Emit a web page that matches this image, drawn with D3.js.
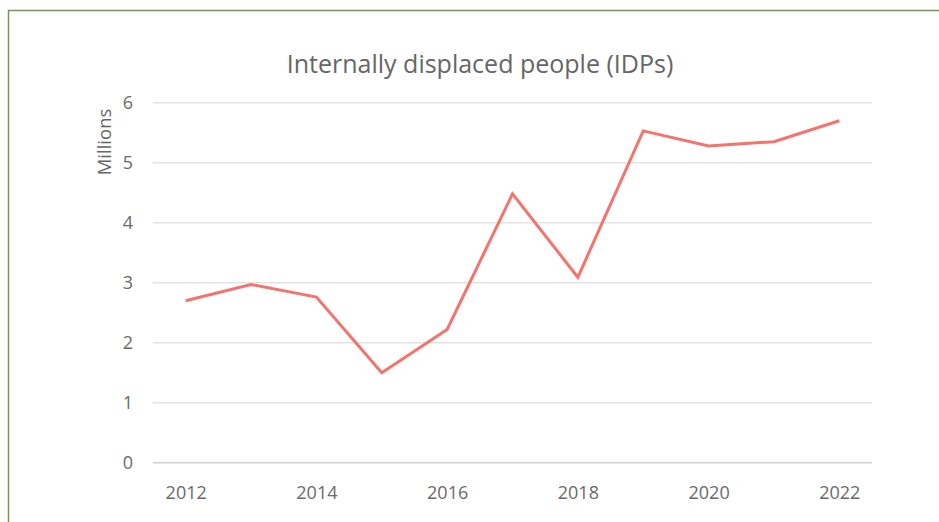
<!DOCTYPE html>
<html>
<head>
<meta charset="utf-8">
<script src="https://cdn.jsdelivr.net/npm/d3@7"></script>
<style>
html,body{margin:0;padding:0;background:#fff;}
svg{display:block;}
</style>
</head>
<body>
<svg id="chart" width="939" height="522"></svg>
<script>
const years = ["2012","2013","2014","2015","2016","2017","2018","2019","2020","2021","2022"];
const idps = [2.70, 2.97, 2.76, 1.50, 2.22, 4.48, 3.09, 5.53, 5.28, 5.35, 5.70];
const yTicks = [0, 1, 2, 3, 4, 5, 6];
const xTickLabels = ["2012","2014","2016","2018","2020","2022"];
const title = "Internally displaced people (IDPs)";
const yLabel = "Millions";

const svg = d3.select("#chart");
const font = "'Open Sans', sans-serif";

// frame
svg.append("rect")
  .attr("x", 8.5).attr("y", 10.5)
  .attr("width", 1000).attr("height", 600)
  .attr("fill", "none").attr("stroke", "#77955a").attr("stroke-width", 1.5);

const plot = {left: 153, right: 872, top: 102.7, bottom: 462.7};

const x = d3.scalePoint().domain(years).range([plot.left, plot.right]).padding(0.5);
const y = d3.scaleLinear().domain([0, 6]).range([plot.bottom, plot.top]);

// gridlines
svg.append("g").selectAll("line").data(yTicks).join("line")
  .attr("x1", plot.left).attr("x2", plot.right)
  .attr("y1", d => y(d)).attr("y2", d => y(d))
  .attr("stroke", d => d === 0 ? "#cfcfcf" : "#e3e3e3")
  .attr("stroke-width", 1.5);

// y axis labels
const yAxis = d3.axisLeft(y).tickValues(yTicks).tickSize(0).tickPadding(0).tickFormat(d3.format("d"));
const gy = svg.append("g").attr("transform", `translate(${plot.left - 20},0)`).call(yAxis);
gy.select(".domain").remove();
gy.selectAll("text").attr("font-family", font).attr("font-size", 18).attr("fill", "#6a6a6a");

// x axis labels
const xAxis = d3.axisBottom(x).tickValues(xTickLabels).tickSize(0).tickPadding(0);
const gx = svg.append("g").attr("transform", `translate(0,${plot.bottom})`).call(xAxis);
gx.select(".domain").remove();
gx.selectAll("text").attr("font-family", font).attr("font-size", 18).attr("fill", "#6a6a6a")
  .attr("y", 36).attr("dy", null);

// line
const line = d3.line().x((d, i) => x(years[i])).y(d => y(d));
svg.append("path").datum(idps)
  .attr("d", line)
  .attr("fill", "none")
  .attr("stroke", "#f4736e")
  .attr("stroke-width", 3)
  .attr("stroke-linejoin", "miter");

// title
svg.append("text")
  .attr("x", 480).attr("y", 73)
  .attr("text-anchor", "middle")
  .attr("font-family", font).attr("font-size", 25)
  .attr("fill", "#666")
  .text(title);

// y label
svg.append("text")
  .attr("transform", `translate(111,142) rotate(-90)`)
  .attr("text-anchor", "middle")
  .attr("font-family", font).attr("font-size", 18.5)
  .attr("fill", "#666")
  .text(yLabel);
</script>
</body>
</html>
